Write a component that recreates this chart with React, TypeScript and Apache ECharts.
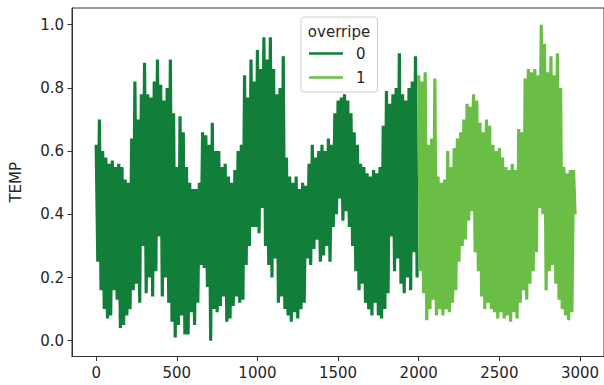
import React, { useEffect, useRef } from "react";
import * as echarts from "echarts";

// sample spacing of the readings (x units)
const STEP = 20;
const START0 = 0;
const START1 = 2000;

// overripe = 0 : upper readings at x = 0,20,...,1980 and lower readings at x = 10,30,...,1990
const hi0 = [
  0.62, 0.70, 0.60, 0.58, 0.56, 0.57, 0.55, 0.56, 0.55, 0.51,
  0.50, 0.64, 0.82, 0.70, 0.78, 0.88, 0.78, 0.77, 0.82, 0.89,
  0.81, 0.76, 0.80, 0.89, 0.72, 0.55, 0.71, 0.66, 0.55, 0.50,
  0.48, 0.48, 0.50, 0.66, 0.65, 0.62, 0.69, 0.60, 0.60, 0.55,
  0.56, 0.52, 0.50, 0.54, 0.60, 0.62, 0.84, 0.77, 0.89, 0.82,
  0.92, 0.86, 0.96, 0.89, 0.96, 0.86, 0.78, 0.80, 0.90, 0.58,
  0.52, 0.50, 0.52, 0.48, 0.50, 0.49, 0.56, 0.62, 0.58, 0.60,
  0.62, 0.60, 0.64, 0.62, 0.72, 0.76, 0.77, 0.78, 0.76, 0.72,
  0.66, 0.62, 0.56, 0.55, 0.53, 0.52, 0.54, 0.53, 0.55, 0.68,
  0.79, 0.75, 0.78, 0.80, 0.91, 0.78, 0.76, 0.80, 0.82, 0.90,
];
const lo0 = [
  0.25, 0.16, 0.10, 0.07, 0.08, 0.16, 0.13, 0.04, 0.05, 0.08,
  0.10, 0.16, 0.18, 0.12, 0.30, 0.15, 0.20, 0.14, 0.22, 0.33,
  0.14, 0.20, 0.12, 0.06, 0.01, 0.05, 0.08, 0.02, 0.02, 0.09,
  0.05, 0.12, 0.24, 0.23, 0.17, 0.00, 0.10, 0.09, 0.11, 0.14,
  0.06, 0.07, 0.11, 0.14, 0.12, 0.13, 0.24, 0.30, 0.36, 0.36,
  0.34, 0.42, 0.30, 0.24, 0.20, 0.26, 0.12, 0.14, 0.10, 0.08,
  0.06, 0.09, 0.07, 0.10, 0.12, 0.26, 0.24, 0.29, 0.32, 0.25,
  0.27, 0.30, 0.25, 0.36, 0.40, 0.45, 0.38, 0.41, 0.36, 0.30,
  0.22, 0.16, 0.18, 0.12, 0.10, 0.08, 0.12, 0.08, 0.07, 0.10,
  0.15, 0.33, 0.22, 0.26, 0.18, 0.15, 0.20, 0.16, 0.28, 0.20,
];

// overripe = 1 : upper readings at x = 2000,...,2960 and lower readings at x = 2010,...,2970
const hi1 = [
  0.84, 0.82, 0.85, 0.62, 0.64, 0.83, 0.52, 0.50, 0.51, 0.60,
  0.55, 0.61, 0.64, 0.66, 0.70, 0.75, 0.74, 0.78, 0.76, 0.69,
  0.66, 0.70, 0.68, 0.62, 0.60, 0.61, 0.58, 0.55, 0.54, 0.56,
  0.54, 0.67, 0.66, 0.83, 0.86, 0.85, 0.86, 0.84, 1.00, 0.94,
  0.85, 0.90, 0.84, 0.91, 0.80, 0.55, 0.53, 0.54, 0.54,
];
const lo1 = [
  0.22, 0.15, 0.065, 0.10, 0.13, 0.08, 0.10, 0.08, 0.10, 0.09,
  0.12, 0.16, 0.25, 0.30, 0.32, 0.38, 0.41, 0.28, 0.22, 0.14,
  0.10, 0.12, 0.10, 0.09, 0.07, 0.09, 0.07, 0.08, 0.06, 0.09,
  0.07, 0.12, 0.16, 0.13, 0.18, 0.22, 0.28, 0.42, 0.40, 0.16,
  0.22, 0.24, 0.18, 0.13, 0.10, 0.08, 0.065, 0.09, 0.40,
];

const seriesNames = ["0", "1"];
const xTicks = [0, 500, 1000, 1500, 2000, 2500, 3000];
const yTicks = [0, 0.2, 0.4, 0.6, 0.8, 1.0];
const legendTitle = "overripe";
const yName = "TEMP";

const COLORS = ["#117e3a", "#6abe45"];
const FONT = "DejaVu Sans";
const TXT = "#262626";
const AX = "#333333";

function buildLine(start: number, hi: number[], lo: number[]) {
  const pts: number[][] = [];
  for (let i = 0; i < hi.length; i++) {
    pts.push([start + STEP * i, hi[i]]);
    if (i < lo.length) pts.push([start + STEP * i + STEP / 2, lo[i]]);
  }
  return pts;
}

export default function App() {
  const ref = useRef<HTMLDivElement>(null);
  useEffect(() => {
    if (!ref.current) return;
    const chart = echarts.init(ref.current, null, { renderer: "svg" });
    const axisCommon = {
      type: "value",
      axisLine: { show: true, onZero: false, lineStyle: { color: AX, width: 1 } },
      splitLine: { show: false },
    };
    chart.setOption({
      animation: false,
      backgroundColor: "#ffffff",
      grid: {
        left: 72,
        top: 8,
        width: 539,
        height: 348.5,
        show: true,
        borderColor: AX,
        borderWidth: 1,
        backgroundColor: "transparent",
      },
      xAxis: {
        ...axisCommon,
        min: -150,
        max: 3149,
        axisTick: { show: true, customValues: xTicks, length: 4.5, lineStyle: { color: AX, width: 1 } },
        axisLabel: {
          customValues: xTicks,
          margin: 9,
          fontFamily: FONT,
          fontSize: 15,
          color: TXT,
          formatter: (v: number) => String(Math.round(v)),
        },
      },
      yAxis: {
        ...axisCommon,
        min: -0.05,
        max: 1.053,
        name: yName,
        nameLocation: "middle",
        nameGap: 49,
        nameTextStyle: { fontFamily: FONT, fontSize: 15, color: TXT },
        axisTick: { show: true, customValues: yTicks, length: 4.5, lineStyle: { color: AX, width: 1 } },
        axisLabel: {
          customValues: yTicks,
          margin: 8,
          fontFamily: FONT,
          fontSize: 15,
          color: TXT,
          formatter: (v: number) => v.toFixed(1),
        },
      },
      legend: {
        orient: "vertical",
        left: 301,
        top: 17,
        padding: [29, 12, 7, 8],
        itemWidth: 34,
        itemHeight: 2.5,
        itemGap: 9,
        icon: "rect",
        selectedMode: false,
        backgroundColor: "rgba(255,255,255,0.85)",
        borderColor: "#cccccc",
        borderWidth: 1,
        borderRadius: 3,
        textStyle: { fontFamily: FONT, fontSize: 15, color: TXT, lineHeight: 15, padding: [0, 0, 0, 8] },
        data: seriesNames,
        z: 10,
      },
      graphic: [
        {
          type: "text",
          x: 339,
          y: 32,
          z: 100,
          style: {
            text: legendTitle,
            fontFamily: FONT,
            fontSize: 15,
            fill: TXT,
            align: "center",
            verticalAlign: "middle",
          },
        },
      ],
      series: [
        {
          name: seriesNames[0],
          type: "line",
          data: buildLine(START0, hi0, lo0),
          showSymbol: false,
          symbol: "none",
          color: COLORS[0],
          lineStyle: { color: COLORS[0], width: 3.2, join: "bevel", cap: "butt" },
          z: 2,
        },
        {
          name: seriesNames[1],
          type: "line",
          data: buildLine(START1, hi1, lo1),
          showSymbol: false,
          symbol: "none",
          color: COLORS[1],
          lineStyle: { color: COLORS[1], width: 3.2, join: "bevel", cap: "butt" },
          z: 3,
        },
      ],
    });
    return () => chart.dispose();
  }, []);
  return (
    <div
      ref={ref}
      style={{ position: "fixed", left: 0, top: 0, width: 604, height: 385 }}
    />
  );
}
